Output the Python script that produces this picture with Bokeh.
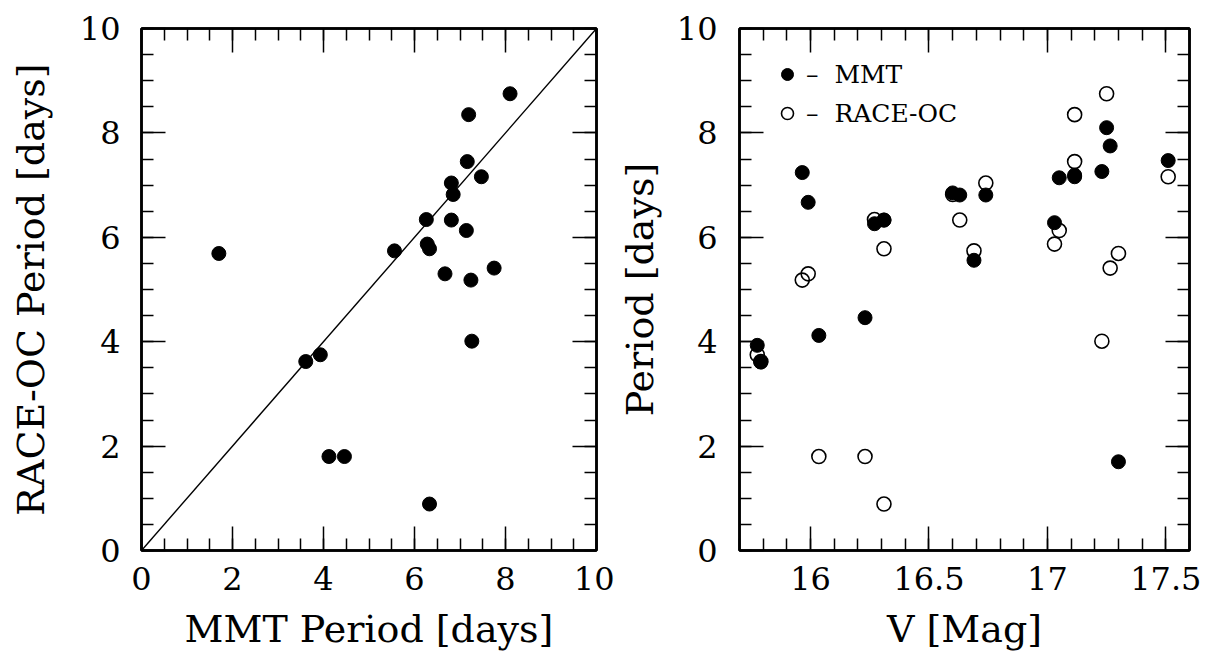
from bokeh.plotting import figure
from bokeh.models import (Range1d, LinearAxis, SingleIntervalTicker, Legend, LegendItem,
                          CustomJSTickFormatter)
from bokeh.layouts import row
from bokeh.embed import file_html
from bokeh.resources import INLINE

# ---- data ----
mmt_period = [1.70, 3.61, 3.93, 4.12, 4.46, 5.56, 6.26, 6.28, 6.33, 6.33, 6.67,
              6.81, 6.85, 6.81, 7.14, 7.16, 7.19, 7.24, 7.26, 7.47, 7.75, 8.10]
raceoc_period = [5.69, 3.62, 3.75, 1.80, 1.80, 5.74, 6.34, 5.87, 5.78, 0.89, 5.30,
                 7.04, 6.82, 6.33, 6.13, 7.45, 8.35, 5.18, 4.01, 7.16, 5.41, 8.75]
v_mag = [17.30, 15.79, 15.775, 16.035, 16.23, 16.69, 16.27, 17.03, 16.31, 16.31, 15.99,
         16.74, 16.60, 16.63, 17.05, 17.115, 17.115, 15.965, 17.23, 17.51, 17.265, 17.25]
one_to_one = [0, 10]
vmag_ticks = [16, 16.5, 17, 17.5]
vmag_tick_labels = ["16", "16.5", "17", "17.5"]

FONT = "DejaVu Serif"
TICK_FS = "32px"
LABEL_FS = "38px"


def style_axis(ax, ticker, label=None, standoff=14, label_standoff=10, show_labels=True):
    ax.ticker = ticker
    ax.axis_line_color = "black"
    ax.axis_line_width = 2.5
    ax.major_tick_in = 24
    ax.major_tick_out = 0
    ax.minor_tick_in = 12
    ax.minor_tick_out = 0
    ax.major_tick_line_color = "black"
    ax.minor_tick_line_color = "black"
    ax.major_tick_line_width = 1.5
    ax.minor_tick_line_width = 1.5
    if show_labels:
        ax.major_label_text_font = FONT
        ax.major_label_text_font_size = TICK_FS
        ax.major_label_text_color = "black"
        ax.major_label_standoff = standoff
    else:
        ax.formatter = CustomJSTickFormatter(code="return ''")
        ax.major_label_text_font_size = "1px"
        ax.major_label_standoff = 0
    if label is not None:
        ax.axis_label = label
        ax.axis_label_text_font = FONT
        ax.axis_label_text_font_size = LABEL_FS
        ax.axis_label_text_font_style = "normal"
        ax.axis_label_text_color = "black"
        ax.axis_label_standoff = label_standoff


def make_fig(width, left, right, xr, yr):
    p = figure(width=width, height=656, x_range=xr, y_range=yr,
               output_backend="svg", toolbar_location=None,
               min_border_left=left, min_border_right=right,
               min_border_top=28, min_border_bottom=106)
    p.xgrid.visible = False
    p.ygrid.visible = False
    p.outline_line_color = "black"
    p.outline_line_width = 2.5
    p.background_fill_color = "white"
    p.border_fill_color = "white"
    return p


def period_ticker():
    return SingleIntervalTicker(interval=2, num_minor_ticks=4)


# ---- left panel ----
p1 = make_fig(614, 141, 18, Range1d(0, 10), Range1d(0, 10))
style_axis(p1.xaxis[0], period_ticker(), "MMT Period [days]", standoff=16, label_standoff=14)
style_axis(p1.yaxis[0], period_ticker(), "RACE-OC Period [days]", standoff=21, label_standoff=24)
p1.add_layout(LinearAxis(), "above")
p1.add_layout(LinearAxis(), "right")
style_axis(p1.above[0], period_ticker(), show_labels=False)
style_axis(p1.right[0], period_ticker(), show_labels=False)

p1.line(one_to_one, one_to_one, line_color="black", line_width=1.4)
p1.scatter(mmt_period, raceoc_period, marker="circle", size=14,
           fill_color="black", line_color="black")

# ---- right panel ----
vt = SingleIntervalTicker(interval=0.5, num_minor_ticks=5)
p2 = make_fig(593, 121, 18, Range1d(15.7, 17.6), Range1d(0, 10))
style_axis(p2.xaxis[0], vt, "V [Mag]", standoff=16, label_standoff=14)
p2.xaxis[0].major_label_overrides = {t: s for t, s in zip(vmag_ticks, vmag_tick_labels)}
style_axis(p2.yaxis[0], period_ticker(), "Period [days]", standoff=22, label_standoff=12)
p2.add_layout(LinearAxis(), "above")
p2.add_layout(LinearAxis(), "right")
style_axis(p2.above[0], SingleIntervalTicker(interval=0.5, num_minor_ticks=5), show_labels=False)
style_axis(p2.right[0], period_ticker(), show_labels=False)

open_r = p2.scatter(v_mag, raceoc_period, marker="circle", size=14,
                    fill_color=None, line_color="black", line_width=1.6)
fill_r = p2.scatter(v_mag, mmt_period, marker="circle", size=14,
                    fill_color="black", line_color="black")

legend = Legend(items=[LegendItem(label="\u2013\u00a0\u00a0MMT", renderers=[fill_r]),
                       LegendItem(label="\u2013\u00a0\u00a0RACE-OC", renderers=[open_r])],
                location="top_left", margin=31, padding=0, spacing=9,
                glyph_width=34, glyph_height=30, label_standoff=2,
                label_text_font=FONT, label_text_font_size="25px", label_text_color="black",
                background_fill_alpha=0, border_line_color=None)
p2.add_layout(legend)

layout = row(p1, p2)
open("out.html", "w").write(file_html(layout, INLINE))
